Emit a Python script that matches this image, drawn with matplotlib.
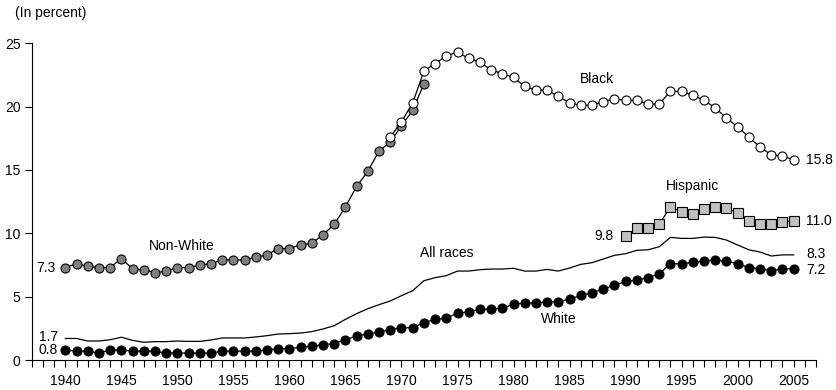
import numpy as np
from matplotlib import pyplot as plt

plt.rcParams['font.family'] = ['Liberation Sans', 'DejaVu Sans']
plt.rcParams['font.size'] = 10

years_all = list(range(1940, 2006))

non_white_years = list(range(1940, 1973))
non_white = [7.3, 7.6, 7.4, 7.3, 7.3, 8.0, 7.2, 7.1, 6.9, 7.0, 7.3, 7.3, 7.5, 7.6, 7.9, 7.9, 7.9,
             8.1, 8.3, 8.8, 8.8, 9.1, 9.2, 9.9, 10.7, 12.1, 13.7, 14.9, 16.5, 17.2, 18.5, 19.7, 21.8]

black_years = list(range(1969, 2006))
black = [17.6, 18.8, 20.3, 22.8, 23.4, 24.0, 24.3, 23.8, 23.5, 22.9, 22.6, 22.3, 21.6, 21.3, 21.3,
         20.8, 20.3, 20.1, 20.1, 20.4, 20.6, 20.5, 20.5, 20.2, 20.2, 21.2, 21.2, 20.9, 20.5, 19.9,
         19.1, 18.4, 17.6, 16.8, 16.2, 16.1, 15.8]

hispanic_years = list(range(1990, 2006))
hispanic = [9.8, 10.4, 10.4, 10.7, 12.1, 11.7, 11.5, 11.9, 12.1, 12.0, 11.6, 11.0, 10.7, 10.7, 10.9, 11.0]

white = [0.8, 0.7, 0.7, 0.55, 0.8, 0.8, 0.7, 0.7, 0.7, 0.55, 0.55, 0.55, 0.55, 0.55, 0.7, 0.7, 0.7,
         0.7, 0.8, 0.9, 0.9, 1.0, 1.1, 1.2, 1.3, 1.6, 1.9, 2.05, 2.2, 2.4, 2.55, 2.55, 2.95, 3.2,
         3.3, 3.7, 3.8, 4.0, 4.0, 4.1, 4.4, 4.5, 4.5, 4.6, 4.6, 4.8, 5.1, 5.3, 5.6, 5.9, 6.2, 6.3,
         6.5, 6.8, 7.6, 7.6, 7.7, 7.8, 7.9, 7.8, 7.6, 7.3, 7.2, 7.05, 7.2, 7.2]

all_races = [1.7, 1.7, 1.5, 1.5, 1.6, 1.8, 1.55, 1.4, 1.45, 1.45, 1.5, 1.47, 1.47, 1.58, 1.74, 1.74,
             1.74, 1.82, 1.92, 2.05, 2.08, 2.13, 2.24, 2.45, 2.71, 3.21, 3.66, 4.05, 4.37, 4.66, 5.08,
             5.47, 6.26, 6.5, 6.66, 7.02, 7.02, 7.13, 7.18, 7.18, 7.24, 7.02, 7.02, 7.15, 7.02, 7.26,
             7.55, 7.68, 7.97, 8.26, 8.39, 8.66, 8.7, 8.94, 9.68, 9.6, 9.6, 9.7, 9.68, 9.47, 9.08,
             8.7, 8.52, 8.21, 8.3, 8.3]

fig = plt.figure(figsize=(8.37, 3.9), dpi=100)
ax = fig.add_axes([0.0379, 0.0769, 0.9371, 0.8121])

lw = 0.9
ax.plot(years_all, all_races, color='black', lw=lw)
ax.plot(non_white_years, non_white, color='black', lw=lw, marker='o', ms=6.5,
        mfc='#808080', mec='black', mew=0.8)
ax.plot(black_years, black, color='black', lw=lw, marker='o', ms=6.5,
        mfc='white', mec='black', mew=0.8)
ax.plot(hispanic_years, hispanic, color='black', lw=lw, marker='s', ms=6.8,
        mfc='#c0c0c0', mec='black', mew=0.8)
ax.plot(years_all, white, color='black', lw=lw, marker='o', ms=6.5,
        mfc='black', mec='black', mew=0.8)

# series names
ax.text(1987.4, 22.2, 'Black', ha='center', va='center')
ax.text(1995.95, 13.7, 'Hispanic', ha='center', va='center')
ax.text(1950.4, 9.0, 'Non-White', ha='center', va='center')
ax.text(1974.0, 8.45, 'All races', ha='center', va='center')
ax.text(1984.0, 3.26, 'White', ha='center', va='center')

# end values
ax.text(2005 + 1.1, black[-1], f'{black[-1]:.1f}', ha='left', va='center')
ax.text(2005 + 1.1, hispanic[-1], f'{hispanic[-1]:.1f}', ha='left', va='center')
ax.text(2005 + 1.1, all_races[-1] + 0.1, f'{all_races[-1]:.1f}', ha='left', va='center')
ax.text(2005 + 1.1, white[-1] - 0.1, f'{white[-1]:.1f}', ha='left', va='center')
ax.text(1990 - 1.1, hispanic[0], f'{hispanic[0]:.1f}', ha='right', va='center')
ax.text(1940 - 0.85, non_white[0], f'{non_white[0]:.1f}', ha='right', va='center')
ax.text(1940 - 0.6, all_races[0] + 0.12, f'{all_races[0]:.1f}', ha='right', va='center')
ax.text(1940 - 0.7, white[0], f'{white[0]:.1f}', ha='right', va='center')

fig.text(15 / 837, 1 - 12.5 / 390, '(In percent)', ha='left', va='center')

ax.set_xlim(1937, 2007)
ax.set_ylim(0, 25)
ax.spines['top'].set_visible(False)
ax.spines['right'].set_visible(False)
ax.set_xticks(range(1940, 2006, 5))
ax.set_xticks(range(1937, 2008), minor=True)
ax.set_yticks(range(0, 26, 5))
ax.tick_params(axis='x', which='both', direction='out', length=5, width=0.8, pad=5)
ax.tick_params(axis='y', direction='out', length=5, width=0.8, pad=3)

fig.savefig('out.png', dpi=100, facecolor='white')
